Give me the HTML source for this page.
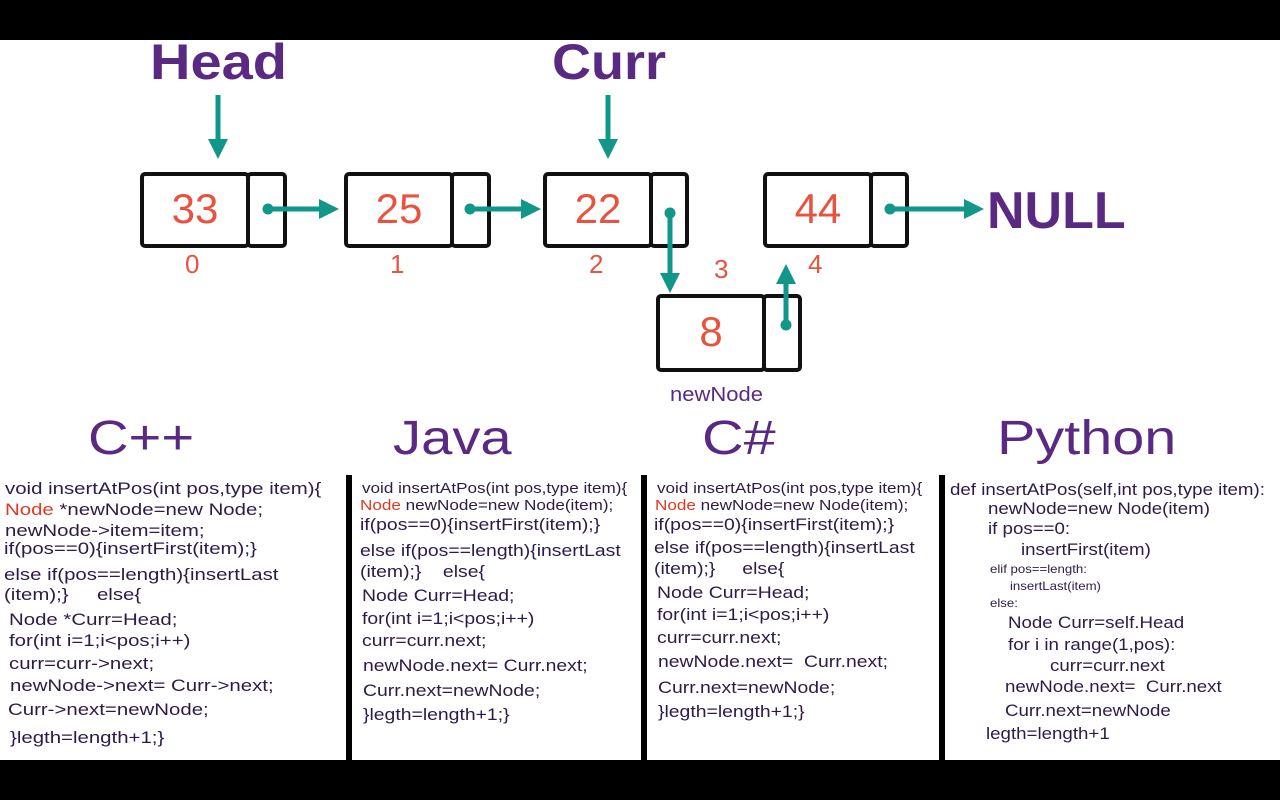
<!DOCTYPE html>
<html><head><meta charset="utf-8"><style>
body{margin:0;width:1280px;height:800px;background:#fff;position:relative;overflow:hidden;font-family:"Liberation Sans",sans-serif}
.a{position:absolute;white-space:pre;line-height:1;transform-origin:0 0}
.bar{position:absolute;left:0;width:1280px;height:40px;background:#000}
.h{color:#5a2a83;font-size:50px;font-weight:bold}
.hl{color:#5a2a83;font-size:48px;transform:scaleX(1.17)}
.box{position:absolute;border:4px solid #111;border-radius:5px;box-sizing:border-box;background:#fff}
.n{color:#e8533f;font-size:42px;text-align:center;line-height:66px}
.i{color:#e8533f;font-size:26px}
.c{color:#2e1a47;font-size:17px}
.k1 .c{transform:scaleX(1.2)}
.k2 .c{transform:scaleX(1.14)}
.k3 .c{transform:scaleX(1.1)}
.s{font-size:15px}
.r{color:#e0391f}
.v{position:absolute;top:475px;height:285px;width:6px;background:#000}
</style></head><body>
<div class="bar" style="top:0"></div>
<div class="bar" style="top:760px"></div>

<div class="a h" style="left:150px;top:37px;transform:scaleX(1.12)">Head</div>
<div class="a h" style="left:552px;top:37px;transform:scaleX(1.08)">Curr</div>
<div class="a h" style="left:987px;top:185px;font-size:52px">NULL</div>

<div class="box n" style="left:140px;top:172px;width:110px;height:76px">33</div>
<div class="box" style="left:246px;top:172px;width:41px;height:76px"></div>
<div class="box n" style="left:344px;top:172px;width:110px;height:76px">25</div>
<div class="box" style="left:450px;top:172px;width:41px;height:76px"></div>
<div class="box n" style="left:543px;top:172px;width:110px;height:76px">22</div>
<div class="box" style="left:649px;top:172px;width:40px;height:76px"></div>
<div class="box n" style="left:763px;top:172px;width:110px;height:76px">44</div>
<div class="box" style="left:869px;top:172px;width:40px;height:76px"></div>
<div class="box n" style="left:656px;top:294px;width:110px;height:78px;line-height:68px">8</div>
<div class="box" style="left:762px;top:294px;width:40px;height:78px"></div>

<div class="a i" style="left:185px;top:251px">0</div>
<div class="a i" style="left:390px;top:251px">1</div>
<div class="a i" style="left:589px;top:251px">2</div>
<div class="a i" style="left:714px;top:256px">3</div>
<div class="a i" style="left:808px;top:251px">4</div>
<div class="a" style="left:670px;top:385px;color:#5a2a83;font-size:20px;transform:scaleX(1.1)">newNode</div>

<svg class="a" style="left:0;top:0" width="1280" height="800">
<defs><marker id="m" markerWidth="4" markerHeight="4" refX="2.2" refY="2" orient="auto"><path d="M0,0L4,2L0,4z" fill="#11968a"/></marker></defs>
<g stroke="#11968a" stroke-width="5" fill="#11968a">
<line x1="218" y1="95" x2="218" y2="150" marker-end="url(#m)"/>
<line x1="608" y1="95" x2="608" y2="150" marker-end="url(#m)"/>
<line x1="268" y1="209" x2="330" y2="209" marker-end="url(#m)"/>
<line x1="470" y1="209" x2="532" y2="209" marker-end="url(#m)"/>
<line x1="890" y1="209" x2="975" y2="209" marker-end="url(#m)"/>
<line x1="670" y1="213" x2="670" y2="284" marker-end="url(#m)"/>
<line x1="786" y1="325" x2="786" y2="273" marker-end="url(#m)"/>
<circle cx="268" cy="209" r="3"/><circle cx="470" cy="209" r="3"/><circle cx="890" cy="209" r="3"/><circle cx="670" cy="213" r="3"/><circle cx="786" cy="325" r="3"/>
</g></svg>

<div class="a hl" style="left:88px;top:415px">C++</div>
<div class="a hl" style="left:393px;top:415px">Java</div>
<div class="a hl" style="left:702px;top:415px;transform:scaleX(1.2)">C#</div>
<div class="a hl" style="left:997px;top:415px;transform:scaleX(1.2)">Python</div>

<div class="v" style="left:346px"></div>
<div class="v" style="left:641px"></div>
<div class="v" style="left:939px"></div>

<div class="k1">
<div class="a c" style="left:5px;top:480px">void insertAtPos(int pos,type item){</div>
<div class="a c" style="left:5px;top:501px"><span class="r">Node</span> *newNode=new Node;</div>
<div class="a c" style="left:5px;top:522px">newNode-&gt;item=item;</div>
<div class="a c" style="left:4px;top:540px">if(pos==0){insertFirst(item);}</div>
<div class="a c" style="left:4px;top:566px">else if(pos==length){insertLast</div>
<div class="a c" style="left:4px;top:586px">(item);}     else{</div>
<div class="a c" style="left:9px;top:611px">Node *Curr=Head;</div>
<div class="a c" style="left:9px;top:632px">for(int i=1;i&lt;pos;i++)</div>
<div class="a c" style="left:9px;top:655px">curr=curr-&gt;next;</div>
<div class="a c" style="left:10px;top:677px">newNode-&gt;next= Curr-&gt;next;</div>
<div class="a c" style="left:8px;top:701px">Curr-&gt;next=newNode;</div>
<div class="a c" style="left:10px;top:729px">}legth=length+1;}</div>
</div>

<div class="k2">
<div class="a c s" style="left:362px;top:481px">void insertAtPos(int pos,type item){</div>
<div class="a c s" style="left:360px;top:498px"><span class="r">Node</span> newNode=new Node(item);</div>
<div class="a c" style="left:360px;top:516px">if(pos==0){insertFirst(item);}</div>
<div class="a c" style="left:360px;top:542px">else if(pos==length){insertLast</div>
<div class="a c" style="left:360px;top:563px">(item);}    else{</div>
<div class="a c" style="left:362px;top:587px">Node Curr=Head;</div>
<div class="a c" style="left:362px;top:610px">for(int i=1;i&lt;pos;i++)</div>
<div class="a c" style="left:362px;top:632px">curr=curr.next;</div>
<div class="a c" style="left:363px;top:657px">newNode.next= Curr.next;</div>
<div class="a c" style="left:363px;top:682px">Curr.next=newNode;</div>
<div class="a c" style="left:363px;top:706px">}legth=length+1;}</div>

<div class="a c s" style="left:657px;top:481px">void insertAtPos(int pos,type item){</div>
<div class="a c s" style="left:655px;top:498px"><span class="r">Node</span> newNode=new Node(item);</div>
<div class="a c" style="left:654px;top:516px">if(pos==0){insertFirst(item);}</div>
<div class="a c" style="left:654px;top:539px">else if(pos==length){insertLast</div>
<div class="a c" style="left:654px;top:560px">(item);}     else{</div>
<div class="a c" style="left:657px;top:584px">Node Curr=Head;</div>
<div class="a c" style="left:657px;top:606px">for(int i=1;i&lt;pos;i++)</div>
<div class="a c" style="left:657px;top:629px">curr=curr.next;</div>
<div class="a c" style="left:658px;top:653px">newNode.next=  Curr.next;</div>
<div class="a c" style="left:658px;top:679px">Curr.next=newNode;</div>
<div class="a c" style="left:658px;top:703px">}legth=length+1;}</div>
</div>

<div class="k3">
<div class="a c" style="left:950px;top:481px">def insertAtPos(self,int pos,type item):</div>
<div class="a c" style="left:988px;top:500px">newNode=new Node(item)</div>
<div class="a c" style="left:988px;top:520px">if pos==0:</div>
<div class="a c" style="left:1021px;top:541px">insertFirst(item)</div>
<div class="a c" style="left:990px;top:563px;font-size:12px">elif pos==length:</div>
<div class="a c" style="left:1010px;top:580px;font-size:12px">insertLast(item)</div>
<div class="a c" style="left:990px;top:597px;font-size:12px">else:</div>
<div class="a c" style="left:1008px;top:614px">Node Curr=self.Head</div>
<div class="a c" style="left:1008px;top:636px">for i in range(1,pos):</div>
<div class="a c" style="left:1050px;top:657px">curr=curr.next</div>
<div class="a c" style="left:1005px;top:678px">newNode.next=  Curr.next</div>
<div class="a c" style="left:1005px;top:702px">Curr.next=newNode</div>
<div class="a c" style="left:986px;top:725px">legth=length+1</div>
</div>
</body></html>
